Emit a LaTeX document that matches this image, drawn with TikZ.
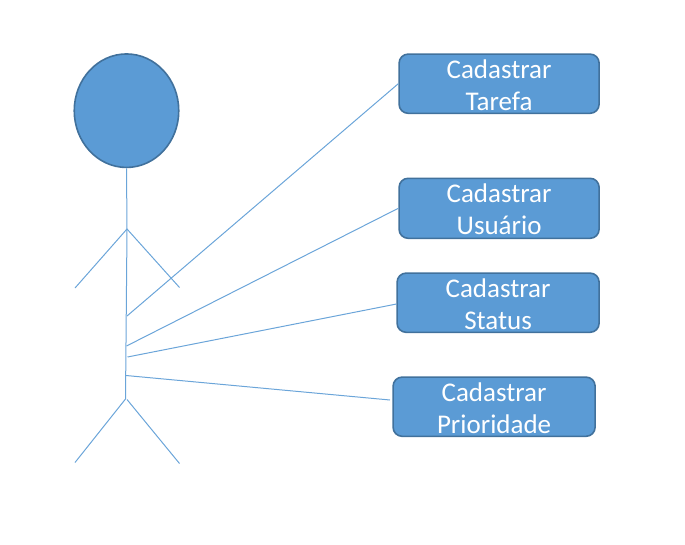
\documentclass[tikz,border=0pt]{standalone}
\usepackage{fontspec}
\usetikzlibrary{shapes.geometric}
\setmainfont{Carlito}
\definecolor{fillb}{HTML}{5B9BD5}
\definecolor{edgeb}{HTML}{41719C}
\newcommand{\lowerline}{\rule{0pt}{21.5pt}}
\tikzset{
  px/.style={x=1pt,y=-1pt},
  taskbox/.style={draw=edgeb,fill=fillb,line width=1.6pt,rounded corners=9pt,text=white,align=center,font=\fontsize{27}{32}\selectfont,inner xsep=0pt,inner ysep=-10pt,anchor=north west},
  actorline/.style={draw=fillb!90!white,line width=1pt},
  headshape/.style={draw=edgeb,fill=fillb,line width=1.6pt,ellipse,inner sep=0pt}
}
\begin{document}
\begin{tikzpicture}[px]
\useasboundingbox (0,0) rectangle (685,544);
\node[headshape,minimum width=104.5pt,minimum height=113.5pt] (head) at (126.5,110.7) {};
\node[taskbox,minimum width=200pt,minimum height=59.2pt] (t1) at (398.3,53.3) {\lowerline Cadastrar\\Tarefa};
\node[taskbox,minimum width=200pt,minimum height=60pt] (t2) at (398.3,177.5) {\lowerline Cadastrar\\Usuário};
\node[taskbox,minimum width=202pt,minimum height=59.2pt] (t3) at (396.3,272.3) {\lowerline Cadastrar\\Status};
\node[taskbox,minimum width=202pt,minimum height=59.2pt] (t4) at (392.3,376.3) {\lowerline Cadastrar\\Prioridade};
\coordinate (neck) at (127,229);
\coordinate (hip) at (125.5,399);
\coordinate (hipr) at (127,399.5);
\coordinate (handl) at (75,288);
\coordinate (handr) at (179.5,287.5);
\coordinate (footl) at (75,462.5);
\coordinate (footr) at (179.5,463.5);
\coordinate (a1) at (127,316);
\coordinate (a2) at (126.5,346);
\coordinate (a3) at (127.5,357);
\coordinate (a4) at (126,375.5);
\coordinate (e3) at (396.5,304);
\coordinate (e4) at (390,400);
\draw[actorline] (head.south) -- (neck) -- (hip);
\draw[actorline] (handl) -- (neck) -- (handr);
\draw[actorline] (footl) -- (hip);
\draw[actorline] (hipr) -- (footr);
\draw[actorline] (a1) -- (t1.west);
\draw[actorline] (a2) -- (t2.west);
\draw[actorline] (a3) -- (e3);
\draw[actorline] (a4) -- (e4);
\end{tikzpicture}
\end{document}
